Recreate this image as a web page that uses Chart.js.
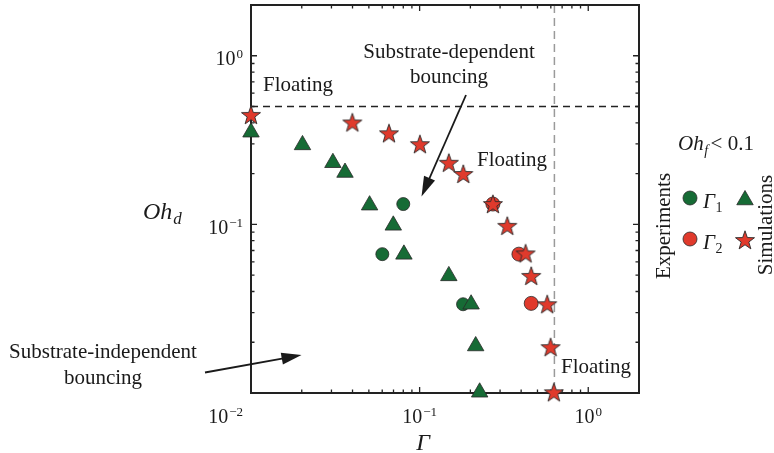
<!DOCTYPE html>
<html><head><meta charset="utf-8">
<script src="https://cdn.jsdelivr.net/npm/chart.js@4"></script>
<style>html,body{margin:0;padding:0;background:#fff}canvas{display:block}</style>
</head><body>
<canvas id="c" width="774" height="453"></canvas>
<script>
// ---- data ----
const gamma1SimX  = [0.01, 0.0202, 0.0306, 0.0361, 0.0505, 0.0698, 0.0807, 0.149, 0.202, 0.215, 0.227];
const gamma1SimOh = [0.352, 0.296, 0.232, 0.203, 0.130, 0.0987, 0.0664, 0.0495, 0.0336, 0.019, 0.0101];
const gamma1ExpX  = [0.080, 0.0601, 0.181];
const gamma1ExpOh = [0.132, 0.0666, 0.0336];
const gamma2SimX  = [0.01, 0.0399, 0.0658, 0.1004, 0.149, 0.1815, 0.272, 0.331, 0.425, 0.459, 0.571, 0.598, 0.625];
const gamma2SimOh = [0.446, 0.402, 0.347, 0.299, 0.232, 0.199, 0.132, 0.098, 0.0673, 0.0495, 0.0336, 0.0187, 0.0101];
const gamma2ExpX  = [0.272, 0.388, 0.459];
const gamma2ExpOh = [0.132, 0.0666, 0.034];
const ohThreshold = 0.5;     // horizontal dashed line
const gammaThreshold = 0.63; // vertical dashed line
const xTickValues = [0.1, 1];
const xTickExps = ['\u22121', '0'];
const yTickValues = [1, 0.1];
const yTickExps = ['0', '\u22121'];
const cornerExp = '\u22122';
const axisMin = 0.01, axisMax = 2;

const GREEN = '#166b35', RED = '#e03a2c', EDGE = '#2a2a2a', INK = '#1a1a1a';
const SERIF = '"Liberation Serif", "Times New Roman", serif';

function toPts(xs, ys){ return xs.map((x,i)=>({x:x, y:ys[i]})); }

function starPath(g, cx, cy, R){
  const r = R*0.4;
  g.beginPath();
  for(let i=0;i<10;i++){
    const rad = (i%2)? r : R;
    const a = -Math.PI/2 + i*Math.PI/5;
    g.lineTo(cx+rad*Math.cos(a), cy+rad*Math.sin(a));
  }
  g.closePath();
}
function makeStar(R, fill){
  const s = Math.ceil(2*R+4);
  const c = document.createElement('canvas'); c.width=c.height=s;
  const g = c.getContext('2d');
  starPath(g, s/2, s/2+0.8, R);
  g.fillStyle=fill; g.fill(); g.lineWidth=0.9; g.strokeStyle=EDGE; g.stroke();
  return c;
}
const starImg = makeStar(10, RED);

function powLabel(ctx, x, y, exp, align){
  ctx.font = '20px '+SERIF;
  const w1 = ctx.measureText('10').width;
  ctx.font = '13px '+SERIF;
  const w2 = ctx.measureText(exp).width;
  const total = w1 + 1 + w2;
  const left = align==='right' ? x-total : (align==='center' ? x-total/2 : x);
  ctx.textAlign='left'; ctx.textBaseline='alphabetic'; ctx.fillStyle=INK;
  ctx.font = '20px '+SERIF; ctx.fillText('10', left, y);
  ctx.font = '13px '+SERIF; ctx.fillText(exp, left+w1+1, y-7);
}
function arrow(ctx, x1, y1, x2, y2){
  const a = Math.atan2(y2-y1, x2-x1), hl = 20, hw = 6;
  const bx = x2 - hl*Math.cos(a), by = y2 - hl*Math.sin(a);
  ctx.save(); ctx.strokeStyle=INK; ctx.fillStyle=INK; ctx.lineWidth=1.8;
  ctx.beginPath(); ctx.moveTo(x1,y1); ctx.lineTo(bx+3*Math.cos(a),by+3*Math.sin(a)); ctx.stroke();
  ctx.beginPath(); ctx.moveTo(x2,y2);
  ctx.lineTo(bx + hw*Math.sin(a), by - hw*Math.cos(a));
  ctx.lineTo(bx - hw*Math.sin(a), by + hw*Math.cos(a));
  ctx.closePath(); ctx.fill(); ctx.restore();
}
function textC(ctx, s, x, y, font){
  ctx.font = font; ctx.fillStyle = INK; ctx.textAlign='center'; ctx.textBaseline='middle'; ctx.fillText(s, x, y);
}

const frame = {
  id: 'frame',
  beforeDatasetsDraw(chart){
    const ctx = chart.ctx, a = chart.chartArea, xs = chart.scales.x, ys = chart.scales.y;
    ctx.save();
    const yT = ys.getPixelForValue(ohThreshold);
    ctx.setLineDash([7,5]); ctx.lineWidth = 1.5; ctx.strokeStyle = '#222';
    ctx.beginPath(); ctx.moveTo(a.left, yT); ctx.lineTo(a.right, yT); ctx.stroke();
    const xT = xs.getPixelForValue(gammaThreshold);
    ctx.setLineDash([8,5]); ctx.strokeStyle = '#9a9a9a';
    ctx.beginPath(); ctx.moveTo(xT, a.top); ctx.lineTo(xT, a.bottom); ctx.stroke();
    ctx.setLineDash([]);
    ctx.strokeStyle = '#222'; ctx.lineWidth = 1.3;
    for (let k=-2; k<=0; k++){
      for (let m=1; m<=9; m++){
        const v = m*Math.pow(10,k);
        if (v < axisMin-1e-12 || v > axisMax+1e-12) continue;
        const len = m===1 ? 6 : 3.5;
        const px = xs.getPixelForValue(v), py = ys.getPixelForValue(v);
        ctx.beginPath();
        ctx.moveTo(px, a.bottom); ctx.lineTo(px, a.bottom-len);
        ctx.moveTo(px, a.top); ctx.lineTo(px, a.top+len);
        ctx.moveTo(a.left, py); ctx.lineTo(a.left+len, py);
        ctx.moveTo(a.right, py); ctx.lineTo(a.right-len, py);
        ctx.stroke();
      }
    }
    ctx.lineWidth = 2; ctx.strokeStyle = '#222';
    ctx.strokeRect(a.left, a.top, a.right-a.left, a.bottom-a.top);
    ctx.restore();
  },
  afterDraw(chart){
    const ctx = chart.ctx, a = chart.chartArea, xs = chart.scales.x, ys = chart.scales.y;
    ctx.save();
    xTickValues.forEach((v,i)=>powLabel(ctx, xs.getPixelForValue(v), a.bottom+30, xTickExps[i], 'center'));
    yTickValues.forEach((v,i)=>powLabel(ctx, a.left-8, ys.getPixelForValue(v)+9.5, yTickExps[i], 'right'));
    powLabel(ctx, a.left-8, a.bottom+30, cornerExp, 'right');
    ctx.fillStyle = INK; ctx.textBaseline='alphabetic'; ctx.textAlign='center';
    ctx.font = 'italic 24px '+SERIF; ctx.fillText('\u0393', (a.left+a.right)/2 - 22, a.bottom+57);
    ctx.textAlign='left';
    ctx.font = 'italic 24px '+SERIF; ctx.fillText('Oh', 143, 219);
    const wOh = ctx.measureText('Oh').width;
    ctx.font = 'italic 17px '+SERIF; ctx.fillText('d', 143+wOh+1, 224);
    const f21 = '21px '+SERIF;
    textC(ctx, 'Floating', 298, 85, f21);
    textC(ctx, 'Floating', 512, 160, f21);
    textC(ctx, 'Floating', 596, 367, f21);
    textC(ctx, 'Substrate-dependent', 449, 52, f21);
    textC(ctx, 'bouncing', 449, 77, f21);
    textC(ctx, 'Substrate-independent', 103, 352, f21);
    textC(ctx, 'bouncing', 103, 378, f21);
    arrow(ctx, 466, 95, 421.5, 196.5);
    arrow(ctx, 205, 372.5, 301.5, 355);
    ctx.textAlign='left'; ctx.textBaseline='alphabetic'; ctx.fillStyle=INK;
    let lx = 678;
    ctx.font = 'italic 21px '+SERIF; ctx.fillText('Oh', lx, 150); lx += ctx.measureText('Oh').width;
    ctx.font = 'italic 14px '+SERIF; ctx.fillText('f', lx+0.5, 155); lx += ctx.measureText('f').width + 3;
    ctx.font = '21px '+SERIF; ctx.fillText('< 0.1', lx, 150);
    ctx.save(); ctx.translate(670, 226); ctx.rotate(-Math.PI/2);
    ctx.textAlign='center'; ctx.font = '21px '+SERIF; ctx.fillText('Experiments', 0, 0); ctx.restore();
    ctx.save(); ctx.translate(772, 225); ctx.rotate(-Math.PI/2);
    ctx.textAlign='center'; ctx.font = '21px '+SERIF; ctx.fillText('Simulations', 0, 0); ctx.restore();
    function circ(x,y,col){ ctx.beginPath(); ctx.arc(x,y,7,0,2*Math.PI); ctx.fillStyle=col; ctx.fill(); ctx.lineWidth=0.8; ctx.strokeStyle=EDGE; ctx.stroke(); }
    function tri(x,y,col){ const r=9.5; ctx.beginPath(); ctx.moveTo(x,y-r); ctx.lineTo(x+r*0.866,y+r/2); ctx.lineTo(x-r*0.866,y+r/2); ctx.closePath(); ctx.fillStyle=col; ctx.fill(); ctx.lineWidth=0.8; ctx.strokeStyle=EDGE; ctx.stroke(); }
    circ(690, 198, GREEN); tri(745, 200, GREEN);
    circ(690, 239, RED); ctx.drawImage(starImg, 745-starImg.width/2, 240-starImg.height/2);
    function gam(x, y, sub){
      ctx.fillStyle=INK; ctx.textAlign='left';
      ctx.font='italic 21px '+SERIF; ctx.fillText('\u0393', x, y);
      const w = ctx.measureText('\u0393').width;
      ctx.font='14px '+SERIF; ctx.fillText(sub, x+w+0.5, y+4);
    }
    gam(703, 208, '1'); gam(703, 249, '2');
    ctx.restore();
  }
};

const common = { borderColor: EDGE, borderWidth: 0.8, clip: false };
new Chart(document.getElementById('c'), {
  type: 'scatter',
  data: { datasets: [
    Object.assign({ label: 'Γ2 simulations', data: toPts(gamma2SimX, gamma2SimOh), pointStyle: starImg, backgroundColor: RED, pointRadius: 10, order: 0 }, common),
    Object.assign({ label: 'Γ1 simulations', data: toPts(gamma1SimX, gamma1SimOh), pointStyle: 'triangle', backgroundColor: GREEN, pointRadius: 9.5, order: 0 }, common),
    Object.assign({ label: 'Γ2 experiments', data: toPts(gamma2ExpX, gamma2ExpOh), pointStyle: 'circle', backgroundColor: RED, pointRadius: 7, order: 1 }, common),
    Object.assign({ label: 'Γ1 experiments', data: toPts(gamma1ExpX, gamma1ExpOh), pointStyle: 'circle', backgroundColor: GREEN, pointRadius: 6.5, order: 1 }, common)
  ]},
  options: {
    responsive: false, animation: false, events: [],
    layout: { autoPadding: false, padding: { left: 251, right: 135, top: 5, bottom: 60 } },
    plugins: { legend: { display: false }, tooltip: { enabled: false } },
    scales: {
      x: { type: 'logarithmic', min: axisMin, max: axisMax, ticks: { display: false }, grid: { display: false }, border: { display: false }, title: { display: false }, afterFit: s => { s.height = 0; } },
      y: { type: 'logarithmic', min: axisMin, max: axisMax, ticks: { display: false }, grid: { display: false }, border: { display: false }, title: { display: false }, afterFit: s => { s.width = 0; } }
    }
  },
  plugins: [frame]
});
</script>
</body></html>
